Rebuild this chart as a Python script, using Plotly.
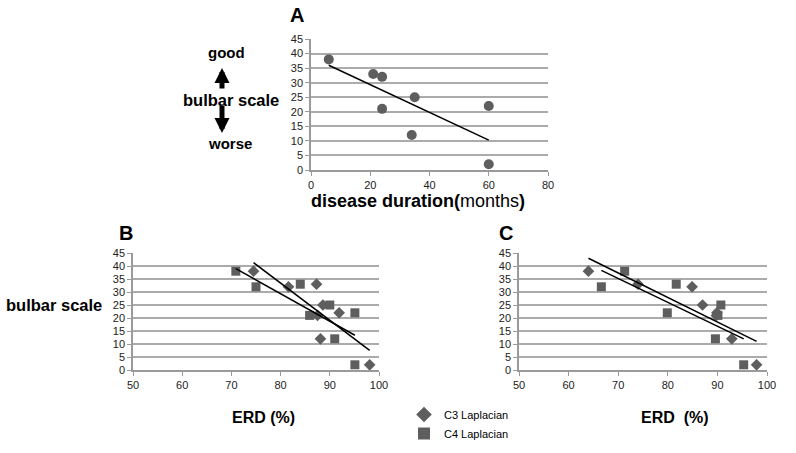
import numpy as np
import plotly.graph_objects as go

# ---------------- data ----------------
# Panel A: disease duration (months) vs bulbar scale
a_duration = [6, 21, 24, 24, 35, 34, 60, 60]
a_bulbar = [38, 33, 32, 21, 25, 12, 22, 2]

# Panel B: ERD (%) vs bulbar scale
b_c3_erd = [74.5, 81.6, 87.3, 88.6, 91.9, 88.1, 98.1, 87.5]
b_c3_bulbar = [38, 32, 33, 25, 22, 12, 2, 21]
b_c4_erd = [70.9, 75.0, 84.0, 90.0, 85.9, 91.0, 95.1, 95.1]
b_c4_bulbar = [38, 32, 33, 25, 21, 12, 22, 2]

# Panel C: ERD (%) vs bulbar scale
c_c3_erd = [64.0, 74.0, 84.9, 87.0, 89.9, 92.9, 97.9, 89.8]
c_c3_bulbar = [38, 33, 32, 25, 22, 12, 2, 21]
c_c4_erd = [71.3, 66.6, 81.7, 79.9, 90.7, 90.1, 89.6, 95.3]
c_c4_bulbar = [38, 32, 33, 22, 25, 21, 12, 2]

y_ticks = [0, 5, 10, 15, 20, 25, 30, 35, 40, 45]
a_x_ticks = [0, 20, 40, 60, 80]
erd_x_ticks = [50, 60, 70, 80, 90, 100]

legend_names = ["C3 Laplacian", "C4 Laplacian"]

# ---------------- styling ----------------
W, H = 796, 453
FONT = "Liberation Sans, Arial, Helvetica, sans-serif"
MARK = "#5e5e5e"
GRID = "#ababab"
AXIS = "#9a9a9a"


def px(x):
    return x / W


def py(y):
    return 1 - y / H


def trend(xs, ys):
    k, b = np.polyfit(xs, ys, 1)
    xr = np.array([min(xs), max(xs)])
    return xr, k * xr + b


fig = go.Figure()

# Panel A
fig.add_trace(go.Scatter(x=a_duration, y=a_bulbar, mode="markers",
                         marker=dict(symbol="circle", size=10, color=MARK),
                         showlegend=False, xaxis="x", yaxis="y", cliponaxis=False))
tx, ty = trend(a_duration, a_bulbar)
fig.add_trace(go.Scatter(x=tx, y=ty, mode="lines", line=dict(color="black", width=1.5),
                         showlegend=False, xaxis="x", yaxis="y"))

# Panel B
for xs, ys, sym, sz, name in [
    (b_c3_erd, b_c3_bulbar, "diamond", 9, legend_names[0]),
    (b_c4_erd, b_c4_bulbar, "square", 9, legend_names[1]),
]:
    fig.add_trace(go.Scatter(x=xs, y=ys, mode="markers", name=name,
                             marker=dict(symbol=sym, size=sz, color=MARK),
                             showlegend=True, xaxis="x2", yaxis="y2", cliponaxis=False))
for xs, ys in [(b_c3_erd, b_c3_bulbar), (b_c4_erd, b_c4_bulbar)]:
    tx, ty = trend(xs, ys)
    fig.add_trace(go.Scatter(x=tx, y=ty, mode="lines", line=dict(color="black", width=1.5),
                             showlegend=False, xaxis="x2", yaxis="y2"))

# Panel C
for xs, ys, sym, sz, name in [
    (c_c3_erd, c_c3_bulbar, "diamond", 9, legend_names[0]),
    (c_c4_erd, c_c4_bulbar, "square", 9, legend_names[1]),
]:
    fig.add_trace(go.Scatter(x=xs, y=ys, mode="markers", name=name,
                             marker=dict(symbol=sym, size=sz, color=MARK),
                             showlegend=False, xaxis="x3", yaxis="y3", cliponaxis=False))
for xs, ys in [(c_c3_erd, c_c3_bulbar), (c_c4_erd, c_c4_bulbar)]:
    tx, ty = trend(xs, ys)
    fig.add_trace(go.Scatter(x=tx, y=ty, mode="lines", line=dict(color="black", width=1.5),
                             showlegend=False, xaxis="x3", yaxis="y3"))


def xaxis(domain, rng, ticks, anchor):
    return dict(domain=domain, range=rng, tickvals=ticks, ticktext=[str(t) for t in ticks],
                showgrid=False, zeroline=False, showline=True, linecolor=AXIS, linewidth=1.5,
                ticks="outside", ticklen=4, tickcolor=AXIS, tickwidth=1, anchor=anchor,
                automargin=False,
                tickfont=dict(family=FONT, size=11, color="#222"), fixedrange=True)


def yaxis(domain, anchor):
    return dict(domain=domain, range=[0, 45], tickvals=y_ticks, ticktext=[str(t) for t in y_ticks],
                showgrid=True, gridcolor=GRID, gridwidth=1.5, zeroline=False,
                showline=True, linecolor=AXIS, linewidth=1.5,
                ticks="outside", ticklen=4, tickcolor=AXIS, tickwidth=1, anchor=anchor,
                automargin=False,
                tickfont=dict(family=FONT, size=11, color="#222"), fixedrange=True)


fig.update_layout(
    width=W, height=H,
    margin=dict(l=0, r=0, t=0, b=0, pad=0, autoexpand=False),
    paper_bgcolor="white", plot_bgcolor="white",
    font=dict(family=FONT, color="black"),
    xaxis=xaxis([px(311), px(548)], [0, 80], a_x_ticks, "y"),
    yaxis=yaxis([py(170), py(39)], "x"),
    xaxis2=xaxis([px(133), px(379)], [50, 100], erd_x_ticks, "y2"),
    yaxis2=yaxis([py(370), py(253)], "x2"),
    xaxis3=xaxis([px(519), px(767)], [50, 100], erd_x_ticks, "y3"),
    yaxis3=yaxis([py(370), py(253)], "x3"),
    legend=dict(x=px(404), y=py(400), xanchor="left", yanchor="top",
                font=dict(family=FONT, size=11, color="black"),
                bgcolor="rgba(0,0,0,0)", itemsizing="constant", itemwidth=30,
                tracegroupgap=0),
)

ann = []


def text(x, y, s, size, bold=False, **kw):
    t = f"<b>{s}</b>" if bold else s
    ann.append(dict(x=px(x), y=py(y), xref="paper", yref="paper", text=t, showarrow=False,
                    font=dict(family=FONT, size=size, color="black"),
                    xanchor=kw.get("xanchor", "center"), yanchor="middle"))


text(297, 15, "A", 20, True)
text(126, 233, "B", 20, True)
text(506, 233, "C", 20, True)
text(226, 52, "good", 15, True)
text(231, 100, "bulbar scale", 16.5, True)
text(230, 143, "worse", 15, True)
text(54, 305, "bulbar scale", 16.5, True)
ann.append(dict(x=px(418), y=py(201), xref="paper", yref="paper",
                text="<b>disease duration(</b>months<b>)</b>", showarrow=False,
                font=dict(family=FONT, size=18, color="black"), xanchor="center", yanchor="middle"))
text(263, 417, "ERD (%)", 16, True)
text(675, 417, "ERD \u00a0(%)", 16, True)

# thick arrows
for tip, tail in [((222, 68), (222, 90)), ((222, 133), (222, 104))]:
    ann.append(dict(x=px(tip[0]), y=py(tip[1]), xref="paper", yref="paper",
                    ax=0, ay=tail[1] - tip[1], axref="pixel", ayref="pixel",
                    showarrow=True, arrowhead=2, arrowsize=0.6, arrowwidth=5,
                    arrowcolor="black", text=""))

fig.update_layout(annotations=ann)

fig.write_html("out.html", config={"displayModeBar": False},
               post_script="document.body.style.margin='0';")
